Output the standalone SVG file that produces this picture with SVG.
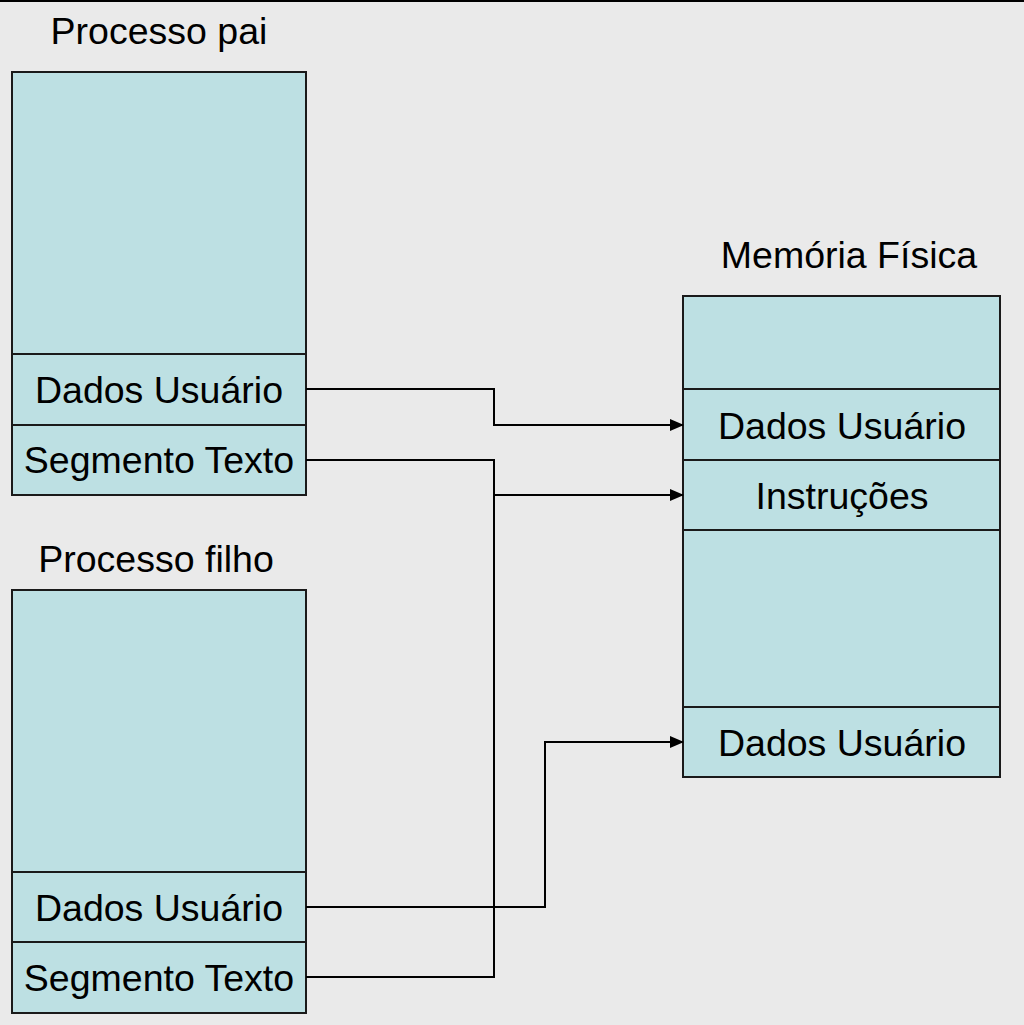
<svg xmlns="http://www.w3.org/2000/svg" width="1024" height="1025" viewBox="0 0 1024 1025">
<defs>
<style>
.box{fill:#bde0e3;stroke:#1a1a1a;stroke-width:2}
.div{stroke:#1a1a1a;stroke-width:2}
.t{font-family:"Liberation Sans",Arial,sans-serif;font-size:37.5px;fill:#000;text-anchor:middle}
.c{fill:none;stroke:#000;stroke-width:2}
</style>
<marker id="ah" markerWidth="14" markerHeight="12" refX="13" refY="6" orient="auto" markerUnits="userSpaceOnUse">
<path d="M0,0 L14,6 L0,12 Z" fill="#000"/>
</marker>
</defs>
<rect x="0" y="0" width="1024" height="1025" fill="#eaeaea"/>
<line x1="0" y1="1" x2="1024" y2="1" stroke="#000" stroke-width="2"/>
<g id="pai">
<text class="t" x="159" y="44">Processo pai</text>
<rect class="box" x="12" y="72" width="294" height="423"/>
<line class="div" x1="12" y1="354" x2="306" y2="354"/>
<line class="div" x1="12" y1="425" x2="306" y2="425"/>
<text class="t" x="159" y="403">Dados Usuário</text>
<text class="t" x="159" y="473">Segmento Texto</text>
</g>
<g id="filho">
<text class="t" x="156" y="572">Processo filho</text>
<rect class="box" x="12" y="590" width="294" height="423"/>
<line class="div" x1="12" y1="872" x2="306" y2="872"/>
<line class="div" x1="12" y1="942" x2="306" y2="942"/>
<text class="t" x="159" y="921">Dados Usuário</text>
<text class="t" x="159" y="991">Segmento Texto</text>
</g>
<g id="memoria">
<text class="t" x="849" y="268">Memória Física</text>
<rect class="box" x="683" y="296" width="317" height="481"/>
<line class="div" x1="683" y1="389" x2="1000" y2="389"/>
<line class="div" x1="683" y1="460" x2="1000" y2="460"/>
<line class="div" x1="683" y1="530" x2="1000" y2="530"/>
<line class="div" x1="683" y1="707" x2="1000" y2="707"/>
<text class="t" x="842" y="439">Dados Usuário</text>
<text class="t" x="842" y="509">Instruções</text>
<text class="t" x="842" y="756">Dados Usuário</text>
</g>
<g id="connectors">
<polyline class="c" points="306,389 494,389 494,425 683,425" marker-end="url(#ah)"/>
<polyline class="c" points="306,460 494,460 494,977 306,977"/>
<polyline class="c" points="494,495 683,495" marker-end="url(#ah)"/>
<polyline class="c" points="306,907 545,907 545,742 683,742" marker-end="url(#ah)"/>
</g>
</svg>
